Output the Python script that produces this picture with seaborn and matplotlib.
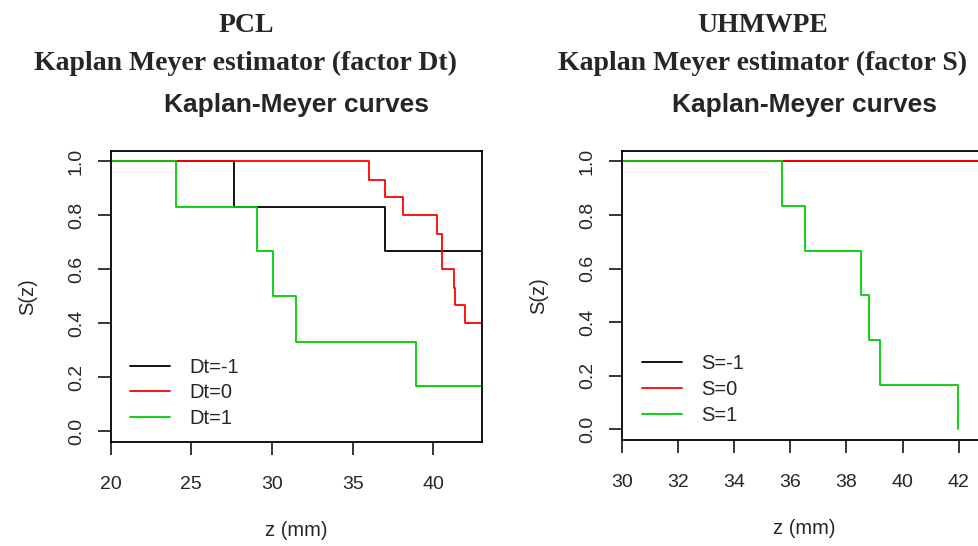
import seaborn as sns
import matplotlib.pyplot as plt
from matplotlib.lines import Line2D
import pandas as pd

# PCL, factor Dt: step curves (time of each step, survival after it)
pcl_groups = ['Dt=-1', 'Dt=0', 'Dt=1']
pcl_z = {
    'Dt=-1': [20, 27.64, 37.0, 43],
    'Dt=0': [20, 36.01, 37.0, 38.12, 40.23, 40.54, 41.26, 41.36, 41.94, 43],
    'Dt=1': [20, 24.05, 29.09, 30.04, 31.49, 38.95, 43],
}
pcl_s = {
    'Dt=-1': [1.0, 0.833, 0.667, 0.667],
    'Dt=0': [1.0, 0.933, 0.867, 0.800, 0.733, 0.600, 0.533, 0.467, 0.400, 0.400],
    'Dt=1': [1.0, 0.833, 0.667, 0.500, 0.333, 0.167, 0.167],
}

# UHMWPE, factor S
uh_groups = ['S=-1', 'S=0', 'S=1']
uh_z = {
    'S=-1': [30, 43],
    'S=0': [30, 43],
    'S=1': [30, 35.71, 36.52, 38.52, 38.81, 39.19, 41.99],
}
uh_s = {
    'S=-1': [1.0, 1.0],
    'S=0': [1.0, 1.0],
    'S=1': [1.0, 0.833, 0.667, 0.500, 0.333, 0.167, 0.0],
}

pcl_xticks = [20, 25, 30, 35, 40]
uh_xticks = [30, 32, 34, 36, 38, 40, 42]
yticks = [0.0, 0.2, 0.4, 0.6, 0.8, 1.0]
colors = ['black', '#FF0000', '#00CD00']


def to_frame(groups, zs, ss):
    rows = []
    for g in groups:
        for z, s in zip(zs[g], ss[g]):
            rows.append({'group': g, 'z': z, 'S': s})
    return pd.DataFrame(rows)


sns.set_theme(style="ticks", rc={
    'axes.linewidth': 1.3,
    'xtick.major.width': 1.3,
    'ytick.major.width': 1.3,
    'xtick.major.size': 9,
    'ytick.major.size': 9.5,
    'xtick.major.pad': 15.5,
    'ytick.major.pad': 9,
    'xtick.labelsize': 14,
    'ytick.labelsize': 14,
    'axes.edgecolor': 'black',
})
plt.rcParams['font.family'] = ['Liberation Sans', 'DejaVu Sans']

fig = plt.figure(figsize=(9.79, 5.46), dpi=100)
ax1 = fig.add_axes([0.113, 0.190, 0.379, 0.534])
ax2 = fig.add_axes([0.635, 0.194, 0.373, 0.530])

panels = [
    (ax1, pcl_groups, pcl_z, pcl_s, (20, 43), pcl_xticks, 0.052, 0.29),
    (ax2, uh_groups, uh_z, uh_s, (30, 43), uh_xticks, 0.055, 0.296),
]

for ax, groups, zs, ss, xlim, xticks, lx, ly in panels:
    df = to_frame(groups, zs, ss)
    sns.lineplot(data=df, x='z', y='S', hue='group', hue_order=groups,
                 palette=dict(zip(groups, colors)), estimator=None, sort=False,
                 drawstyle='steps-post', linewidth=1.3, legend=False, ax=ax)
    ax.set_xlim(*xlim)
    ax.set_ylim(-0.04, 1.04)
    ax.set_xticks(xticks)
    ax.set_yticks(yticks)
    ax.set_yticklabels([f'{v:.1f}' for v in yticks], rotation=90, va='center')
    for sp in ax.spines.values():
        sp.set_visible(True)
    ax.set_xlabel('z (mm)', fontsize=14.5, labelpad=20)
    ax.set_ylabel('S(z)', fontsize=14.5, labelpad=22)
    ax.set_title('Kaplan-Meyer curves', fontsize=19, fontweight='bold', pad=28)
    handles = [Line2D([], [], color=c, lw=1.3) for c in colors]
    ax.legend(handles, groups, loc='upper left', bbox_to_anchor=(lx, ly),
              frameon=False, fontsize=14.5, handlelength=2.0, handletextpad=0.95,
              labelspacing=0.33, borderpad=0, borderaxespad=0)

serif = ['Liberation Serif', 'DejaVu Serif']
fig.text(246 / 979, 1 - 25 / 546, 'PCL', ha='center', va='center',
         fontsize=20, fontweight='bold', family=serif)
fig.text(246 / 979, 1 - 63 / 546, 'Kaplan Meyer estimator (factor Dt)',
         ha='center', va='center', fontsize=20, fontweight='bold', family=serif)
fig.text(763 / 979, 1 - 25 / 546, 'UHMWPE', ha='center', va='center',
         fontsize=20, fontweight='bold', family=serif)
fig.text(763 / 979, 1 - 63 / 546, 'Kaplan Meyer estimator (factor S)',
         ha='center', va='center', fontsize=20, fontweight='bold', family=serif)

plt.savefig('out.png', dpi=100)
plt.close()
